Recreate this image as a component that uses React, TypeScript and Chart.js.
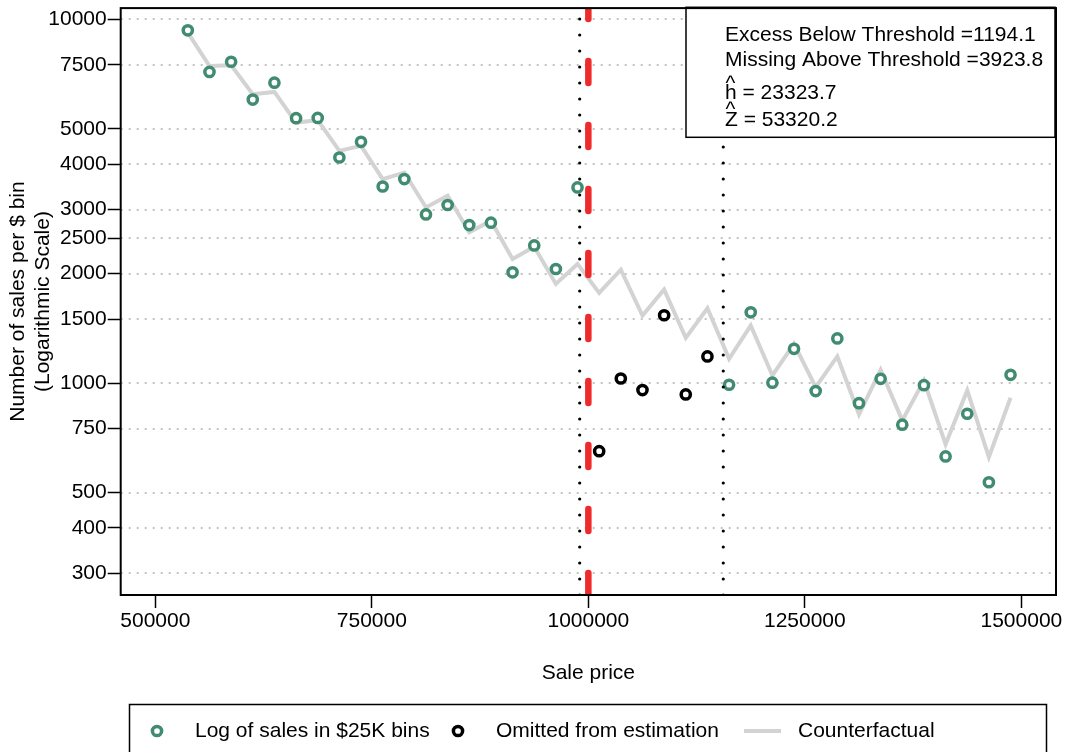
import React, { useEffect, useRef } from "react";
import { Chart, registerables } from "chart.js";

Chart.register(...registerables);

const FONT = '"Liberation Sans", Arial, Helvetica, sans-serif';

const binMidpoints = [
  537500, 562500, 587500, 612500, 637500, 662500, 687500, 712500, 737500, 762500,
  787500, 812500, 837500, 862500, 887500, 912500, 937500, 962500, 987500, 1012500,
  1037500, 1062500, 1087500, 1112500, 1137500, 1162500, 1187500, 1212500, 1237500, 1262500,
  1287500, 1312500, 1337500, 1362500, 1387500, 1412500, 1437500, 1462500, 1487500,
];

const salesPerBin = [
  9329, 7170, 7648, 6018, 6699, 5350, 5360, 4172, 4606, 3472,
  3639, 2909, 3088, 2720, 2761, 2017, 2391, 2060, 3451, 650,
  1030, 957, 1537, 931, 1184, 990, 1566, 1003, 1243, 951,
  1327, 881, 1028, 769, 987, 629, 824, 534, 1054,
];

const counterfactualFit = [
  9200, 7441, 7475, 6227, 6318, 5203, 5282, 4351, 4490, 3639,
  3793, 3041, 3275, 2597, 2796, 2195, 2372, 1874, 2127, 1771,
  2051, 1534, 1808, 1332, 1606, 1167, 1440, 1050, 1283, 975,
  1184, 821, 1088, 790, 1017, 679, 955, 626, 912,
];

const omittedBins = [1012500, 1037500, 1062500, 1087500, 1112500, 1137500];

const roundThreshold = 1000000;
const lowerBound = 990000;
const upperBound = 1155800;

const xTickValues = [500000, 750000, 1000000, 1250000, 1500000];
const yTickValues = [300, 400, 500, 750, 1000, 1500, 2000, 2500, 3000, 4000, 5000, 7500, 10000];

const statLines = [
  "Excess Below Threshold =1194.1",
  "Missing Above Threshold =3923.8",
  "h = 23323.7",
  "Z = 53320.2",
];

const legendLabels = ["Log of sales in $25K bins", "Omitted from estimation", "Counterfactual"];

const GREEN = "#418C70";
const RED = "#EE2A2A";
const GREY_LINE = "#D3D3D3";

function drawRing(ctx: CanvasRenderingContext2D, x: number, y: number, color: string) {
  ctx.save();
  ctx.beginPath();
  ctx.arc(x, y, 4.6, 0, Math.PI * 2);
  ctx.fillStyle = "#fff";
  ctx.fill();
  ctx.lineWidth = 3.5;
  ctx.strokeStyle = color;
  ctx.stroke();
  ctx.restore();
}

const overlayPlugin = {
  id: "overlay",
  beforeDatasetsDraw(chart: any) {
    const { ctx, chartArea } = chart;
    const y = chart.scales.y;
    ctx.save();
    ctx.strokeStyle = "#C4C4C4";
    ctx.lineWidth = 2;
    ctx.setLineDash([2, 6]);
    for (const v of yTickValues) {
      const py = Math.round(y.getPixelForValue(v)) + 0.0;
      ctx.beginPath();
      ctx.moveTo(chartArea.left, py);
      ctx.lineTo(chartArea.right, py);
      ctx.stroke();
    }
    ctx.restore();
  },
  afterDatasetsDraw(chart: any) {
    const { ctx, chartArea } = chart;
    const x = chart.scales.x;
    ctx.save();
    ctx.beginPath();
    ctx.rect(chartArea.left, chartArea.top, chartArea.right - chartArea.left, chartArea.bottom - chartArea.top);
    ctx.clip();

    // dotted bounds
    ctx.strokeStyle = "#000";
    ctx.lineWidth = 3.2;
    ctx.lineCap = "round";
    ctx.setLineDash([0, 16]);
    for (const b of [lowerBound, upperBound]) {
      const px = x.getPixelForValue(b);
      ctx.beginPath();
      ctx.moveTo(px, chartArea.bottom);
      ctx.lineTo(px, chartArea.top - 20);
      ctx.stroke();
    }
    // red dashed threshold
    ctx.strokeStyle = RED;
    ctx.lineWidth = 6.5;
    ctx.setLineDash([22, 42]);
    const rx = x.getPixelForValue(roundThreshold);
    ctx.beginPath();
    ctx.moveTo(rx, chartArea.bottom);
    ctx.lineTo(rx, chartArea.top - 40);
    ctx.stroke();
    ctx.restore();

    // annotation box
    ctx.save();
    const bx = 686, by = 7.3, bw = 369, bh = 130;
    ctx.fillStyle = "#fff";
    ctx.fillRect(bx, by, bw, bh);
    ctx.lineWidth = 1.5;
    ctx.strokeStyle = "#000";
    ctx.strokeRect(bx, by, bw, bh);
    ctx.fillStyle = "#000";
    ctx.font = `21px ${FONT}`;
    ctx.textBaseline = "alphabetic";
    ctx.textAlign = "left";
    const baselines = [40.7, 66.3, 99, 125.7];
    statLines.forEach((t, i) => ctx.fillText(t, 725, baselines[i]));
    ctx.fillText("^", 725.5, 89.5);
    ctx.fillText("^", 725.5, 115.5);
    ctx.restore();

    // plot frame
    ctx.save();
    ctx.strokeStyle = "#000";
    ctx.lineWidth = 2;
    ctx.strokeRect(chartArea.left, chartArea.top, chartArea.right - chartArea.left, chartArea.bottom - chartArea.top);
    ctx.restore();
  },
  afterDraw(chart: any) {
    const { ctx } = chart;
    ctx.save();
    ctx.lineWidth = 1.5;
    ctx.strokeStyle = "#000";
    ctx.strokeRect(129.5, 704.5, 917, 70);
    const ly = 731;
    drawRing(ctx, 157, ly, GREEN);
    drawRing(ctx, 458, ly, "#000");
    ctx.beginPath();
    ctx.moveTo(744, ly);
    ctx.lineTo(781, ly);
    ctx.strokeStyle = GREY_LINE;
    ctx.lineWidth = 4;
    ctx.stroke();
    ctx.fillStyle = "#000";
    ctx.font = `21px ${FONT}`;
    ctx.textBaseline = "middle";
    ctx.textAlign = "left";
    ctx.fillText(legendLabels[0], 195, ly);
    ctx.fillText(legendLabels[1], 496, ly);
    ctx.fillText(legendLabels[2], 798, ly);
    ctx.restore();
  },
};

export default function App() {
  const canvasRef = useRef<HTMLCanvasElement | null>(null);

  useEffect(() => {
    document.body.style.margin = "0";
    const canvas = canvasRef.current;
    if (!canvas) return;

    const keptPoints = binMidpoints
      .map((b, i) => ({ x: b, y: salesPerBin[i] }))
      .filter((p) => !omittedBins.includes(p.x));
    const omittedPoints = binMidpoints
      .map((b, i) => ({ x: b, y: salesPerBin[i] }))
      .filter((p) => omittedBins.includes(p.x));
    const linePoints = binMidpoints.map((b, i) => ({ x: b, y: counterfactualFit[i] }));

    const tickFont = { family: FONT, size: 21 };

    const chart = new Chart(canvas, {
      type: "scatter",
      data: {
        datasets: [
          {
            label: legendLabels[0],
            data: keptPoints,
            pointRadius: 4.6,
            pointBorderWidth: 3.5,
            pointBackgroundColor: "#fff",
            pointBorderColor: GREEN,
            showLine: false,
          },
          {
            label: legendLabels[1],
            data: omittedPoints,
            pointRadius: 4.6,
            pointBorderWidth: 3.5,
            pointBackgroundColor: "#fff",
            pointBorderColor: "#000",
            showLine: false,
          },
          {
            label: legendLabels[2],
            data: linePoints,
            showLine: true,
            borderColor: GREY_LINE,
            borderWidth: 4,
            pointRadius: 0,
            tension: 0,
          },
        ],
      },
      options: {
        responsive: false,
        animation: false,
        devicePixelRatio: 1,
        layout: { padding: { top: 7, right: 9, bottom: 0, left: 0 } },
        plugins: {
          legend: { display: false },
          tooltip: { enabled: false },
          title: { display: false },
        },
        scales: {
          x: {
            type: "linear",
            min: 460000,
            max: 1540000,
            afterBuildTicks: (s: any) => {
              s.ticks = xTickValues.map((v) => ({ value: v }));
            },
            afterFit: (s: any) => {
              s.height = 157;
              s.paddingLeft = 0;
              s.paddingRight = 0;
              s.paddingTop = 0;
              s.paddingBottom = 0;
            },
            ticks: {
              callback: (v: any) => String(v),
              font: tickFont,
              color: "#000",
              padding: 1,
              maxRotation: 0,
              autoSkip: false,
            },
            grid: {
              drawOnChartArea: false,
              drawTicks: true,
              tickLength: 13,
              tickColor: "#000",
              tickWidth: 1.5,
            },
            border: { display: false },
            title: {
              display: true,
              text: "Sale price",
              font: { family: FONT, size: 21, lineHeight: 1.2 },
              color: "#000",
              padding: { top: 0, bottom: 66.4 },
            },
          },
          y: {
            type: "logarithmic",
            min: 261.6,
            max: 10740,
            afterBuildTicks: (s: any) => {
              s.ticks = yTickValues.map((v) => ({ value: v }));
            },
            afterFit: (s: any) => {
              s.width = 120.7;
              s.paddingLeft = 0;
              s.paddingRight = 0;
              s.paddingTop = 0;
              s.paddingBottom = 0;
            },
            ticks: {
              callback: (v: any) => String(v),
              font: tickFont,
              color: "#000",
              padding: 1,
              autoSkip: false,
            },
            grid: {
              drawOnChartArea: false,
              drawTicks: true,
              tickLength: 13,
              tickColor: "#000",
              tickWidth: 1.5,
            },
            border: { display: false },
            title: {
              display: true,
              text: ["Number of sales per $ bin", "(Logarithmic Scale)"],
              font: { family: FONT, size: 21, lineHeight: 25 / 21 },
              color: "#000",
              padding: { top: 6, bottom: 0 },
            },
          },
        },
      } as any,
      plugins: [overlayPlugin],
    });

    return () => {
      chart.destroy();
    };
  }, []);

  return (
    <div style={{ width: 1065, height: 752, position: "relative", background: "#fff" }}>
      <canvas ref={canvasRef} width={1065} height={752} style={{ display: "block" }} />
    </div>
  );
}
